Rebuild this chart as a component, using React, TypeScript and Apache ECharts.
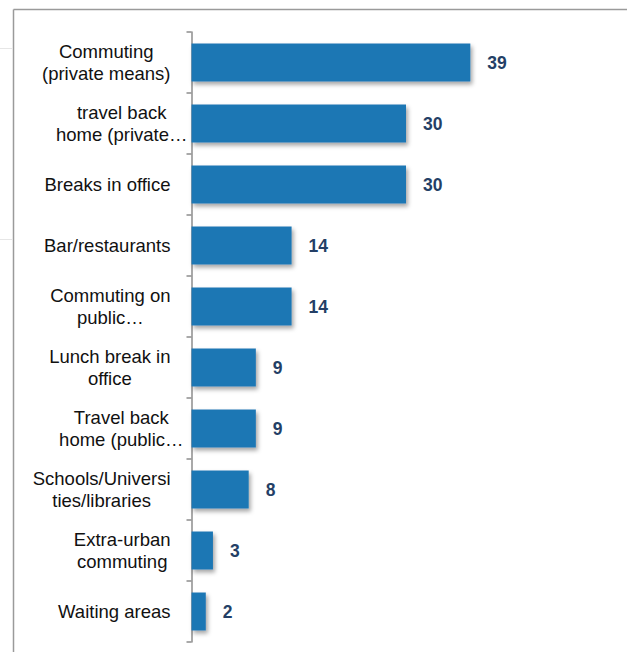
import React, { useEffect, useRef } from "react";
import * as echarts from "echarts";

const categories: string[] = [
  "Commuting\n(private means)",
  "travel back\nhome (private…",
  "Breaks in office",
  "Bar/restaurants",
  "Commuting on\npublic…",
  "Lunch break in\noffice",
  "Travel back\nhome (public…",
  "Schools/Universi\nties/libraries",
  "Extra-urban\ncommuting",
  "Waiting areas",
];

const values: number[] = [39, 30, 30, 14, 14, 9, 9, 8, 3, 2];

const FONT = "'Liberation Sans', Arial, sans-serif";

// truncated labels overflow their box to the right in the original
const overflow: Record<string, number> = {
  "travel back\nhome (private…": 17,
  "Travel back\nhome (public…": 13,
};

export default function App() {
  const ref = useRef<HTMLDivElement>(null);

  useEffect(() => {
    if (!ref.current) return;
    const chart = echarts.init(ref.current, undefined, { renderer: "svg" });
    const yData = categories.map((c) =>
      overflow[c]
        ? { value: c, textStyle: { padding: [0, -overflow[c], 0, 0] } }
        : c
    );
    chart.setOption({
      animation: false,
      backgroundColor: "#ffffff",
      graphic: [
        {
          type: "line",
          shape: { x1: 13.5, y1: 9.5, x2: 627, y2: 9.5 },
          style: { stroke: "#9a9a9a", lineWidth: 1.5 },
        },
        {
          type: "line",
          shape: { x1: 13.5, y1: 9.5, x2: 13.5, y2: 652 },
          style: { stroke: "#9a9a9a", lineWidth: 1.5 },
        },
        {
          type: "line",
          shape: { x1: 0, y1: 48.5, x2: 12, y2: 48.5 },
          style: { stroke: "#e6e6e6", lineWidth: 1 },
        },
        {
          type: "line",
          shape: { x1: 0, y1: 239.5, x2: 12, y2: 239.5 },
          style: { stroke: "#e6e6e6", lineWidth: 1 },
        },
      ],
      grid: { left: 191.5, top: 32, width: 429, height: 610, containLabel: false },
      xAxis: {
        type: "value",
        min: 0,
        max: 60,
        show: false,
      },
      yAxis: {
        type: "category",
        inverse: true,
        data: yData,
        axisLine: { show: true, lineStyle: { color: "#8c8c8c", width: 1.5 } },
        axisTick: { show: true, length: 5, lineStyle: { color: "#8c8c8c", width: 1.5 } },
        splitLine: { show: false },
        axisLabel: {
          margin: 21,
          align: "right",
          formatter: (v: string) =>
            v
              .split("\n")
              .map((l) => `{c|${l}}`)
              .join("\n"),
          rich: {
            c: {
              align: "center",
              fontSize: 18.5,
              lineHeight: 22,
              fontFamily: FONT,
              color: "#111111",
            },
          },
        },
      },
      series: [
        {
          type: "bar",
          data: values,
          barWidth: 38,
          itemStyle: {
            color: "#1f77b4",
            shadowColor: "rgba(0,0,0,0.35)",
            shadowBlur: 4,
            shadowOffsetX: 2,
            shadowOffsetY: 3,
          },
          label: {
            show: true,
            position: "right",
            distance: 17,
            fontFamily: FONT,
            fontWeight: "bold",
            fontSize: 17.5,
            color: "#243f66",
          },
        },
      ],
    });
    return () => chart.dispose();
  }, []);

  return (
    <div
      ref={ref}
      style={{ position: "fixed", left: 0, top: 0, width: 627, height: 652 }}
    />
  );
}
